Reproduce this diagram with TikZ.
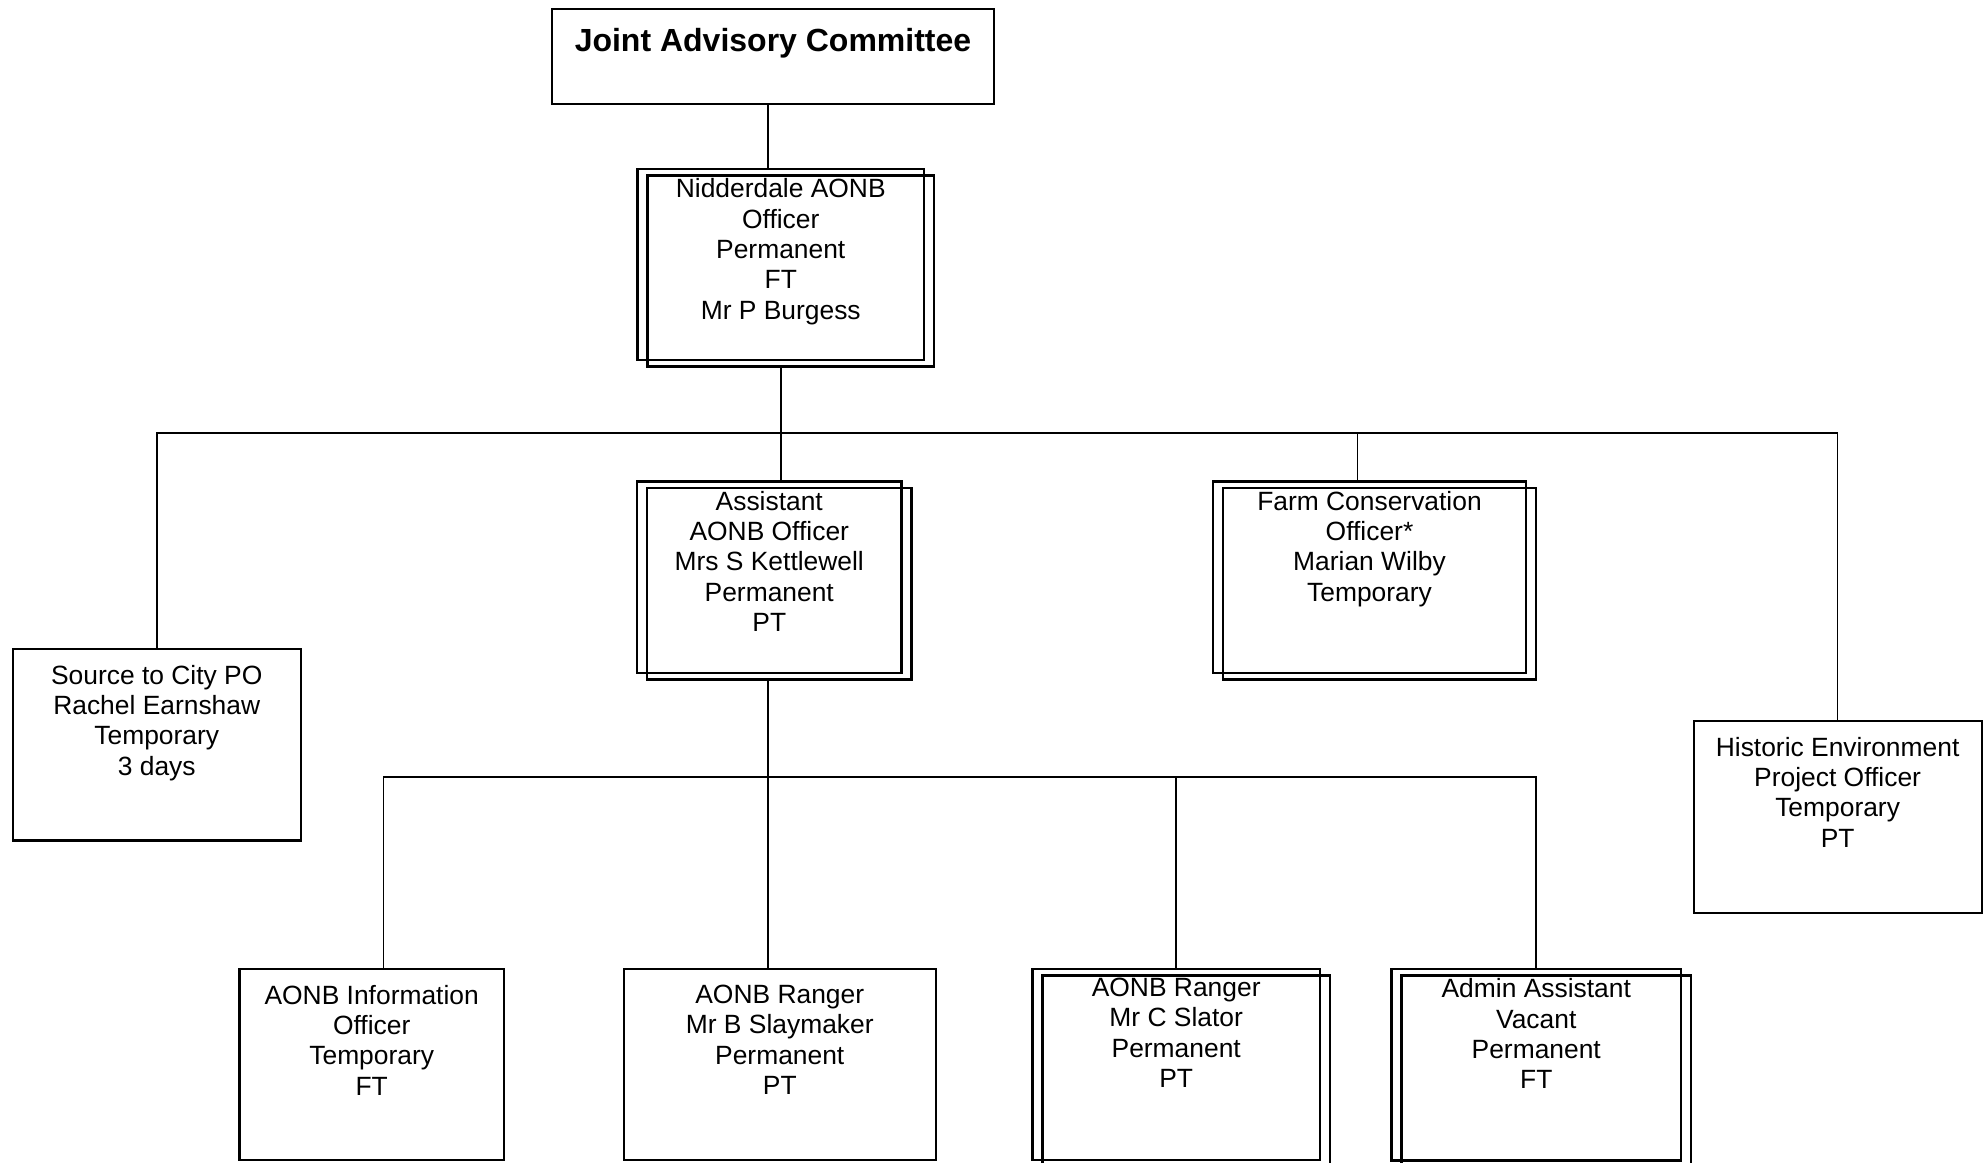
\documentclass[tikz,border=0pt]{standalone}
\usepackage{fontspec}
\setmainfont{Liberation Sans}
\usetikzlibrary{positioning}

\tikzset{
  post/.style={draw, line width=2.2pt, inner sep=0pt, outer sep=0pt},
  postd/.style={post, line width=2.7pt,
    preaction={draw, line width=2.7pt, transform canvas={xshift=10pt, yshift=-6.5pt}}},
  txt/.style={align=center, inner sep=0pt, font=\fontsize{26.4}{30.3}\selectfont},
  link/.style={line width=1.7pt}
}

\begin{document}
\begin{tikzpicture}[x=1pt,y=-1pt]
\useasboundingbox (0,0) rectangle (1988,1165);
\clip (0,0) rectangle (1988,1162.5);

% Committee
\node[post, line width=1.9pt, minimum width=442pt, minimum height=95pt] (jac) at (773,56.5) {};
\node[txt, font=\fontsize{32}{36}\selectfont\bfseries, below=18.8pt of jac.north] (jacT) {Joint Advisory Committee};

% AONB officer
\node[postd, minimum width=286.5pt, minimum height=191pt] (nid) at (780.75,264.5) {};
\node[txt, below=9.5pt of nid.north] (nidT) {Nidderdale AONB\\Officer\\Permanent\\FT\\Mr P Burgess};

% Second row
\node[post, minimum width=288pt, minimum height=191.5pt] (source) at (156.75,744.75) {};
\node[txt, below=16pt of source.north] (sourceT) {Source to City PO\\Rachel Earnshaw\\Temporary\\3 days};

\node[postd, minimum width=264.5pt, minimum height=191.5pt] (asst) at (769.25,577.25) {};
\node[txt, below=9.5pt of asst.north] (asstT) {Assistant\\AONB Officer\\Mrs S Kettlewell\\Permanent\\PT};

\node[postd, minimum width=313pt, minimum height=191.5pt] (farm) at (1369.5,577.25) {};
\node[txt, below=9.5pt of farm.north] (farmT) {Farm Conservation\\Officer*\\Marian Wilby\\Temporary};

\node[post, minimum width=288pt, minimum height=192pt] (hist) at (1837.6,816.9) {};
\node[txt, below=16pt of hist.north] (histT) {Historic Environment\\Project Officer\\Temporary\\PT};

% Third row
\node[post, minimum width=264.6pt, minimum height=191pt] (info) at (371.7,1064.5) {};
\node[txt, below=16pt of info.north] (infoT) {AONB Information\\Officer\\Temporary\\FT};

\node[post, minimum width=312pt, minimum height=191.3pt] (slay) at (779.75,1064.4) {};
\node[txt, below=16pt of slay.north] (slayT) {AONB Ranger\\Mr B Slaymaker\\Permanent\\PT};

\node[postd, minimum width=287.7pt, minimum height=191pt] (slator) at (1176.2,1064.5) {};
\node[txt, below=9pt of slator.north] (slatorT) {AONB Ranger\\Mr C Slator\\Permanent\\PT};

\node[postd, minimum width=289.5pt, minimum height=191.5pt] (admin) at (1536.25,1064.75) {};
\node[txt, below=9.5pt of admin.north] (adminT) {Admin Assistant\\Vacant\\Permanent\\FT};

% Links
\coordinate (nidIn) at ([xshift=-12.5pt]nid.north);
\draw[link] (jac.south -| nidIn) -- (nidIn);

\coordinate (topBus) at (781,433.3);
\coordinate (nidOut) at ([yshift=-6.5pt]nid.south);
\draw[link] (nidOut -| topBus) -- (asst.north -| topBus);
\draw[link] (source.north) |- (topBus) -| (hist.north);
\coordinate (farmIn) at ([xshift=-12pt]farm.north);
\draw[link] (farmIn) -- (farmIn |- topBus);

\coordinate (lowBus) at (768,776.7);
\coordinate (asstOut) at ([yshift=-6.5pt]asst.south);
\draw[link] (asstOut -| lowBus) -- (slay.north -| lowBus);
\coordinate (infoIn) at ([xshift=11.7pt]info.north);
\draw[link] (infoIn) |- (lowBus) -| (admin.north);
\draw[link] (slator.north) -- (slator.north |- lowBus);

\end{tikzpicture}
\end{document}
